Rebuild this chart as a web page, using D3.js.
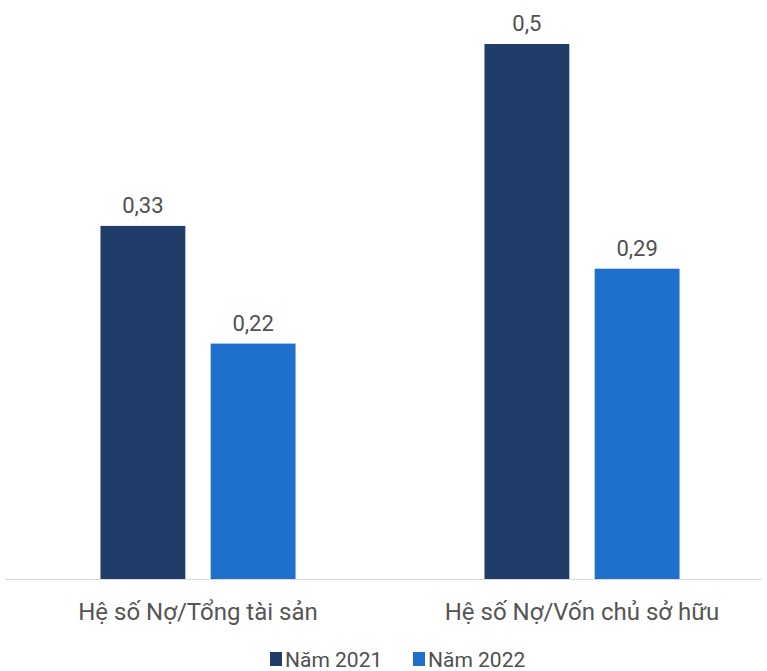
<!DOCTYPE html>
<html><head><meta charset="utf-8">
<script src="https://cdn.jsdelivr.net/npm/d3@7"></script>
<style>body{margin:0;background:#fff;} svg{display:block;}</style>
</head><body>
<svg id="c" width="767" height="671"></svg>
<script>
const categories = ["Hệ số Nợ/Tổng tài sản", "Hệ số Nợ/Vốn chủ sở hữu"];
const seriesNames = ["Năm 2021", "Năm 2022"];
const values2021 = [0.33, 0.5];
const values2022 = [0.22, 0.29];
const valueLabels2021 = ["0,33", "0,5"];
const valueLabels2022 = ["0,22", "0,29"];
const colors = ["#1f3d68", "#1f6fcc"];

const svg = d3.select("#c");
const font = "Roboto, 'Liberation Sans', sans-serif";
const x0 = d3.scaleBand().domain(categories).range([6, 774]).paddingInner(0.492).paddingOuter(0.246);
const x1 = d3.scaleBand().domain(seriesNames).range([0, x0.bandwidth()]).paddingInner(0.23).paddingOuter(0);
const y = d3.scaleLinear().domain([0, 0.5]).range([579, 44]);

svg.append("line").attr("x1", 5).attr("x2", 762).attr("y1", y(0)+0.5).attr("y2", y(0)+0.5)
  .attr("stroke", "#d9d9d9").attr("stroke-width", 1);

const series = [
  {name: seriesNames[0], vals: values2021, labels: valueLabels2021, color: colors[0]},
  {name: seriesNames[1], vals: values2022, labels: valueLabels2022, color: colors[1]}
];
series.forEach(s => {
  const g = svg.append("g");
  categories.forEach((c, i) => {
    const xx = x0(c) + x1(s.name);
    g.append("rect").attr("x", xx).attr("y", y(s.vals[i])).attr("width", x1.bandwidth())
      .attr("height", y(0) - y(s.vals[i])).attr("fill", s.color);
    g.append("text").attr("x", xx + x1.bandwidth()/2).attr("y", y(s.vals[i]) - 13)
      .attr("text-anchor", "middle").attr("font-family", font).attr("font-size", 22)
      .attr("fill", "#505050").text(s.labels[i]);
  });
});

const xAxis = svg.append("g").attr("transform", `translate(0,${y(0)})`)
  .call(d3.axisBottom(x0).tickSize(0).tickPadding(24));
xAxis.select(".domain").remove();
xAxis.selectAll("text").attr("font-family", font).attr("font-size", 24).attr("fill", "#555");

const legend = svg.append("g");
const legendX = [270, 413];
series.forEach((s, i) => {
  legend.append("rect").attr("x", legendX[i]).attr("y", 652).attr("width", 12).attr("height", 14).attr("fill", s.color);
  legend.append("text").attr("x", legendX[i] + 15).attr("y", 667).attr("font-family", font)
    .attr("font-size", 21).attr("fill", "#505050").text(s.name);
});
</script>
</body></html>
